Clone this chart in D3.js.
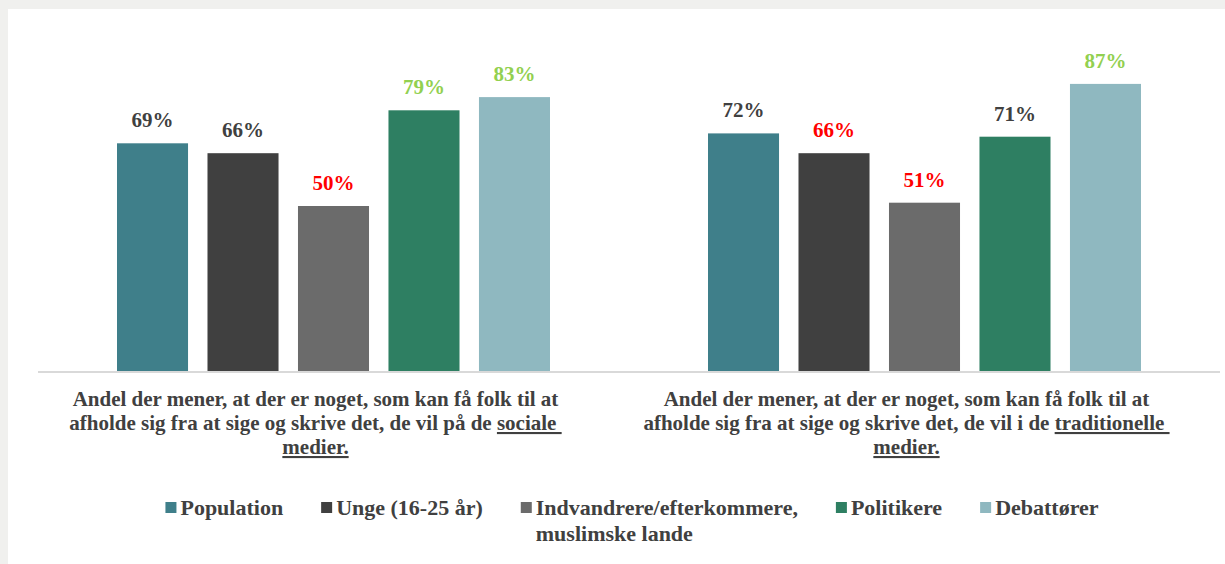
<!DOCTYPE html>
<html>
<head>
<meta charset="utf-8">
<script src="https://cdnjs.cloudflare.com/ajax/libs/d3/7.8.5/d3.min.js"></script>
<style>
    body { margin: 0; background: #f0f0ee; }
    svg { display: block; }
    text { font-family: "Liberation Serif", "Times New Roman", serif; font-weight: bold; }
</style>
</head>
<body>
<div id="chart"></div>
<script>
// categories (wrapped lines, second item of a part = underlined)
var categories = ["sociale", "traditionelle"];
var categoryLines = [
    [[["Andel der mener, at der er noget, som kan få folk til at", false]],
     [["afholde sig fra at sige og skrive det, de vil på de ", false], ["sociale ", true]],
     [["medier.", true]]],
    [[["Andel der mener, at der er noget, som kan få folk til at", false]],
     [["afholde sig fra at sige og skrive det, de vil i de ", false], ["traditionelle ", true]],
     [["medier.", true]]]
];
var seriesNames = ["Population", "Unge (16-25 år)", "Indvandrere/efterkommere, muslimske lande", "Politikere", "Debattører"];
var legendLines = [["Population"], ["Unge (16-25 år)"], ["Indvandrere/efterkommere,", "muslimske lande"], ["Politikere"], ["Debattører"]];
var seriesColors = ["#3f7f8a", "#404040", "#6b6b6b", "#2e7f62", "#8fb8c0"];
var valuesSociale = [69, 66, 50, 79, 83];
var valuesTraditionelle = [72, 66, 51, 71, 87];
var labelColorsSociale = ["#404040", "#404040", "#ff0000", "#92d050", "#92d050"];
var labelColorsTraditionelle = ["#404040", "#ff0000", "#ff0000", "#404040", "#92d050"];

var W = 1225, H = 564;
var axisY = 371, topY = 41;

var svg = d3.select("#chart").append("svg")
    .attr("width", W)
    .attr("height", H);

svg.append("rect")
    .attr("x", 8).attr("y", 9)
    .attr("width", W - 8).attr("height", H - 9)
    .attr("fill", "#ffffff");

var x0 = d3.scaleBand().domain(categories).range([38, 1220]);
var x1 = d3.scaleBand().domain(seriesNames).range([0, x0.bandwidth()])
    .paddingInner(0.215).paddingOuter(0.873);
var y = d3.scaleLinear().domain([0, 100]).range([axisY, topY]);

var data = categories.map(function(c, i) {
    var vals = i == 0 ? valuesSociale : valuesTraditionelle;
    var cols = i == 0 ? labelColorsSociale : labelColorsTraditionelle;
    return {
        category: c,
        lines: categoryLines[i],
        bars: seriesNames.map(function(s, j) {
            return { name: s, value: vals[j], color: seriesColors[j], labelColor: cols[j] };
        })
    };
});

var group = svg.selectAll(".group")
    .data(data)
    .enter().append("g")
    .attr("class", "group")
    .attr("transform", function(d) { return "translate(" + x0(d.category) + ",0)"; });

group.selectAll("rect")
    .data(function(d) { return d.bars; })
    .enter().append("rect")
    .attr("x", function(d) { return x1(d.name); })
    .attr("y", function(d) { return y(d.value); })
    .attr("width", x1.bandwidth())
    .attr("height", function(d) { return axisY - y(d.value); })
    .attr("fill", function(d) { return d.color; });

group.selectAll(".val")
    .data(function(d) { return d.bars; })
    .enter().append("text")
    .attr("class", "val")
    .attr("x", function(d) { return x1(d.name) + x1.bandwidth() / 2; })
    .attr("y", function(d) { return y(d.value) - 16; })
    .attr("text-anchor", "middle")
    .style("font-size", "21px")
    .attr("fill", function(d) { return d.labelColor; })
    .text(function(d) { return d.value + "%"; });

// axis line
svg.append("line")
    .attr("x1", 38).attr("x2", 1220)
    .attr("y1", axisY + 1).attr("y2", axisY + 1)
    .attr("stroke", "#d9d9d9")
    .attr("stroke-width", 2);

// category labels
group.each(function(d) {
    var g = d3.select(this);
    var cx = x0.bandwidth() / 2 - 18;
    d.lines.forEach(function(parts, li) {
        var t = g.append("text")
            .attr("x", cx)
            .attr("y", 406 + li * 24)
            .attr("xml:space", "preserve")
            .attr("text-anchor", "middle")
            .style("font-size", "21px")
            .attr("fill", "#404040");
        parts.forEach(function(p) {
            t.append("tspan")
                .style("text-decoration", p[1] ? "underline" : "none")
                .text(p[0]);
        });
    });
});

// legend
var legend = svg.append("g").attr("class", "legend");
var lx = 0;
legendLines.forEach(function(lines, i) {
    var item = legend.append("g").attr("transform", "translate(" + lx + ",0)");
    item.append("rect")
        .attr("x", 0).attr("y", 502)
        .attr("width", 11).attr("height", 11)
        .attr("fill", seriesColors[i]);
    var maxW = 0;
    lines.forEach(function(l, li) {
        var t = item.append("text")
            .attr("x", 15)
            .attr("y", 515 + li * 26)
            .style("font-size", "22px")
            .attr("fill", "#404040")
            .text(l);
        maxW = Math.max(maxW, t.node().getComputedTextLength());
    });
    lx += 15 + maxW + 38;
});
var legendW = lx - 38;
legend.attr("transform", "translate(" + (632 - legendW / 2) + ",0)");
</script>
</body>
</html>
